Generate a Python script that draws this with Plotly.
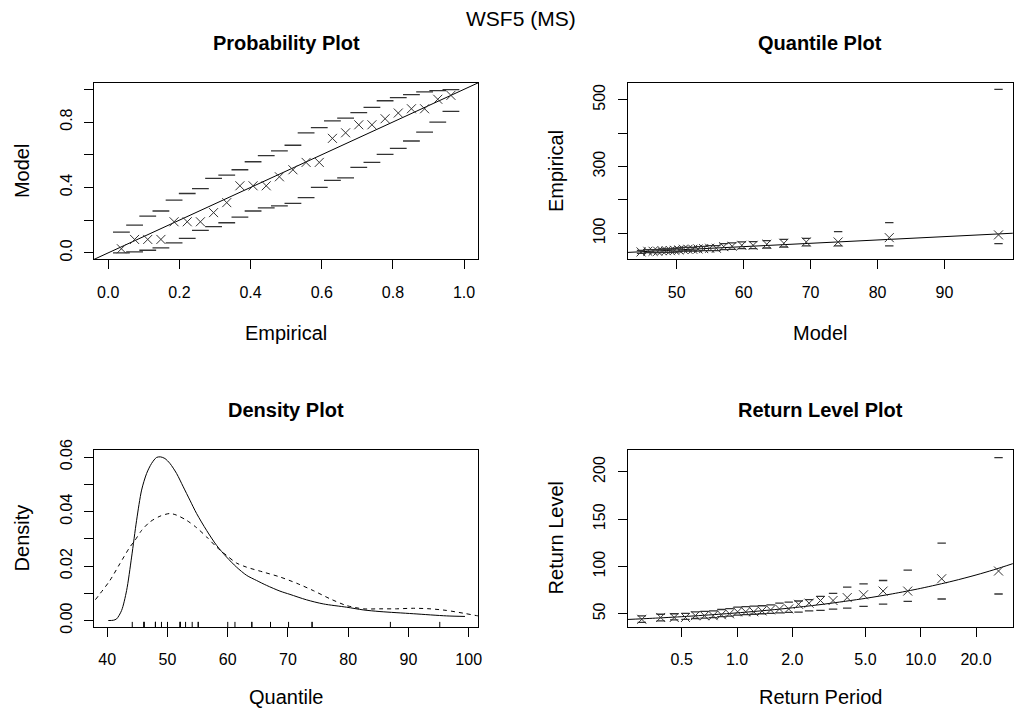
import plotly.graph_objects as go

W, H = 1017, 711

# ---------------- data ----------------
# Probability plot
prob_empirical = [0.037, 0.074, 0.111, 0.148, 0.185, 0.222, 0.259, 0.296, 0.333, 0.370, 0.407, 0.444, 0.481,
                  0.519, 0.556, 0.593, 0.630, 0.667, 0.704, 0.741, 0.778, 0.815, 0.852, 0.889, 0.926, 0.963]
prob_model = [0.025, 0.082, 0.082, 0.082, 0.190, 0.190, 0.190, 0.246, 0.307, 0.410, 0.410, 0.410, 0.465,
              0.508, 0.553, 0.553, 0.700, 0.734, 0.783, 0.783, 0.820, 0.855, 0.881, 0.881, 0.939, 0.963]
prob_upper = [0.127, 0.170, 0.225, 0.256, 0.322, 0.363, 0.393, 0.455, 0.475, 0.508, 0.557, 0.594, 0.623,
              0.658, 0.734, 0.766, 0.807, 0.824, 0.857, 0.889, 0.930, 0.949, 0.967, 0.984, 0.992, 0.998]
prob_lower = [0.000, 0.006, 0.016, 0.031, 0.061, 0.088, 0.137, 0.160, 0.184, 0.219, 0.256, 0.275, 0.287,
              0.303, 0.338, 0.400, 0.443, 0.459, 0.523, 0.553, 0.602, 0.639, 0.684, 0.738, 0.799, 0.865]
unit_identity = [-0.1, 1.1]

# Quantile plot
model_quantiles = [44.67, 45.68, 46.46, 47.16, 47.80, 48.43, 49.06, 49.68, 50.32, 50.99, 51.68, 52.40, 53.18,
                   54.02, 54.92, 55.92, 57.02, 58.28, 59.72, 61.41, 63.45, 66.00, 69.35, 74.11, 81.75, 98.07]
empirical_data = [44.15, 46.1, 46.1, 46.1, 48.0, 48.0, 48.0, 49.0, 50.0, 52.1, 52.1, 52.1, 53.0,
                  54.1, 55.1, 55.1, 60.0, 61.2, 64.0, 64.0, 67.1, 70.1, 74.0, 74.0, 87.0, 95.2]
qq_upper = [49, 51, 51, 51, 53, 53, 53, 55, 56, 58, 58, 58, 60, 61, 63, 63, 69, 71, 74, 75, 78, 82, 85, 105, 132, 531]
qq_lower = [40, 42, 42, 42, 43, 43, 43, 44, 45, 47, 47, 47, 47, 48, 48, 48, 51, 52, 54, 54, 56, 59, 62, 62, 62, 69]
data_identity = [0, 1000]

# Density plot
dens_model_x = [40.17, 41.0, 41.55, 42.38, 43.21, 44.04, 44.87, 45.70, 46.53, 47.36, 48.19, 48.85, 49.57,
                50.40, 51.51, 52.62, 53.72, 54.83, 56.49, 58.15, 59.81, 61.47, 63.13, 64.79, 66.45, 68.67,
                70.33, 73.09, 75.86, 79.73, 82.50, 85.27, 90.80, 96.34, 99.38]
dens_model_y = [0.0, 0.0001, 0.0006, 0.0037, 0.0110, 0.0233, 0.0368, 0.0479, 0.0540, 0.0577, 0.0599, 0.0601,
                0.0595, 0.0577, 0.0540, 0.0491, 0.0442, 0.0393, 0.0331, 0.0276, 0.0233, 0.0196, 0.0166,
                0.0147, 0.0129, 0.0108, 0.0096, 0.0076, 0.0061, 0.0049, 0.0039, 0.0033, 0.0025, 0.0017, 0.0015]
dens_emp_x = [37.0, 37.79, 38.78, 40.44, 42.10, 43.76, 44.59, 45.70, 47.08, 48.74, 50.40, 51.51, 53.17, 54.83,
              56.49, 58.15, 59.81, 61.47, 63.13, 65.90, 68.67, 71.43, 74.20, 76.97, 79.73, 82.50, 85.27,
              88.04, 90.80, 93.57, 96.34, 99.10, 101.32, 102.5]
dens_emp_y = [0.0060, 0.0071, 0.0098, 0.0147, 0.0209, 0.0270, 0.0294, 0.0331, 0.0362, 0.0383, 0.0393, 0.0387,
              0.0368, 0.0341, 0.0307, 0.0270, 0.0239, 0.0211, 0.0196, 0.0178, 0.0160, 0.0137, 0.0110,
              0.0080, 0.0055, 0.0043, 0.0043, 0.0043, 0.0045, 0.0043, 0.0037, 0.0027, 0.0018, 0.0014]

# Return level plot
return_period = [0.303, 0.384, 0.455, 0.524, 0.593, 0.665, 0.741, 0.822, 0.910, 1.007, 1.114, 1.233, 1.368,
                 1.523, 1.702, 1.911, 2.162, 2.467, 2.846, 3.332, 3.979, 4.883, 6.238, 8.496, 13.00, 26.52]
rl_upper = [47.8, 49.5, 50.0, 50.5, 52.0, 52.5, 53.0, 54.5, 55.5, 57.0, 57.5, 58.0, 58.5,
            59.5, 61.3, 62.4, 63.5, 64.9, 68.4, 71.5, 78.2, 81.6, 85.2, 96.2, 124.6, 215.2]
rl_lower = [41.0, 42.5, 43.5, 44.0, 45.0, 45.5, 46.0, 47.0, 47.5, 48.5, 49.0, 49.5, 50.0,
            50.5, 51.0, 51.5, 51.8, 53.0, 53.5, 54.9, 56.0, 57.8, 60.2, 63.1, 65.6, 70.9]
rl_curve_period = [0.25, 0.3, 0.4, 0.5, 0.7, 1.0, 1.5, 2.0, 3.0, 5.0, 7.0, 10.0, 15.0, 20.0, 25.0, 32.0]
rl_curve_level = [43.92, 44.63, 45.86, 46.92, 48.73, 50.94, 53.89, 56.32, 60.27, 66.31, 71.06, 76.88,
                  84.65, 91.02, 96.52, 103.24]

# ---------------- styling ----------------
FONT = "Liberation Sans, Arial, Helvetica, sans-serif"
INK = "#000000"
PT = "#333333"

# the photographed page is slightly rescaled; positions below are given in target-image
# pixels and converted to figure pixels with this calibration
CAP_SX, CAP_OY, CAP_SY = 0.996, 12.5, 0.9726


def px_x(v):
    return (v / CAP_SX) / W


def px_y(v):
    return 1 - ((v - CAP_OY) / CAP_SY) / H


def xmark(xs, ys, xa, ya, size=9):
    return go.Scatter(x=xs, y=ys, xaxis=xa, yaxis=ya, mode="markers", showlegend=False,
                      marker=dict(symbol="x-thin", size=size, color=PT, line=dict(width=1, color=PT)))


def dash(xs, ys, xa, ya, size):
    return go.Scatter(x=xs, y=ys, xaxis=xa, yaxis=ya, mode="markers", showlegend=False,
                      marker=dict(symbol="line-ew", size=size, color=PT, line=dict(width=1.3, color=PT)))


def line(xs, ys, xa, ya, dashstyle="solid", shape="linear"):
    return go.Scatter(x=xs, y=ys, xaxis=xa, yaxis=ya, mode="lines", showlegend=False,
                      line=dict(color=INK, width=1, dash=dashstyle, shape=shape, smoothing=0.8))


fig = go.Figure()

# Probability plot
fig.add_trace(line(unit_identity, unit_identity, "x", "y"))
fig.add_trace(dash(prob_empirical, prob_upper, "x", "y", 12))
fig.add_trace(dash(prob_empirical, prob_lower, "x", "y", 12))
fig.add_trace(xmark(prob_empirical, prob_model, "x", "y"))

# Quantile plot
fig.add_trace(line(data_identity, data_identity, "x2", "y2"))
fig.add_trace(dash(model_quantiles, qq_upper, "x2", "y2", 6))
fig.add_trace(dash(model_quantiles, qq_lower, "x2", "y2", 6))
fig.add_trace(xmark(model_quantiles, empirical_data, "x2", "y2"))

# Density plot
fig.add_trace(line(dens_model_x, dens_model_y, "x3", "y3", shape="spline"))
fig.add_trace(line(dens_emp_x, dens_emp_y, "x3", "y3", dashstyle="4px,4px", shape="spline"))

# Return level plot
fig.add_trace(line(rl_curve_period, rl_curve_level, "x4", "y4", shape="spline"))
fig.add_trace(dash(return_period, rl_upper, "x4", "y4", 6))
fig.add_trace(dash(return_period, rl_lower, "x4", "y4", 6))
fig.add_trace(xmark(return_period, empirical_data, "x4", "y4"))

# rug on density plot
for v in empirical_data:
    fig.add_shape(type="line", xref="x3", yref="y3 domain", x0=v, x1=v, y0=0, y1=0.03,
                  line=dict(color=INK, width=1))

left_dom = [px_x(94), px_x(478.3)]
right_dom = [px_x(627.7), min(px_x(1012.7), 1.0)]
top_dom = [px_y(260), px_y(84)]
bot_dom = [px_y(626.5), px_y(450)]

common = dict(showgrid=False, zeroline=False, showline=True, mirror=True, linecolor=INK, linewidth=1,
              ticks="outside", ticklen=9, tickwidth=1, tickcolor=INK,
              tickfont=dict(family=FONT, size=16, color=INK))
xcommon = dict(common, ticklabelstandoff=9)
ycommon = dict(common, tickangle=-90, ticklabelstandoff=6)

fig.update_layout(
    width=W, height=H, margin=dict(l=0, r=0, t=0, b=0),
    paper_bgcolor="white", plot_bgcolor="white",
    font=dict(family=FONT, color=INK),
    xaxis=dict(xcommon, domain=left_dom, anchor="y", range=[-0.04, 1.04],
               tickvals=[0, 0.2, 0.4, 0.6, 0.8, 1.0], ticktext=["0.0", "0.2", "0.4", "0.6", "0.8", "1.0"]),
    yaxis=dict(ycommon, domain=top_dom, anchor="x", range=[-0.04, 1.04],
               tickvals=[0, 0.2, 0.4, 0.6, 0.8, 1.0], ticktext=["0.0", "", "0.4", "", "0.8", ""]),
    xaxis2=dict(xcommon, domain=right_dom, anchor="y2", range=[42.68, 100.2],
                tickvals=[50, 60, 70, 80, 90], ticktext=["50", "60", "70", "80", "90"]),
    yaxis2=dict(ycommon, domain=top_dom, anchor="x2", range=[21.8, 551],
                tickvals=[100, 200, 300, 400, 500], ticktext=["100", "", "300", "", "500"]),
    xaxis3=dict(xcommon, domain=left_dom, anchor="y3", range=[37.8, 101.6],
                tickvals=[40, 50, 60, 70, 80, 90, 100], ticktext=["40", "50", "60", "70", "80", "90", "100"]),
    yaxis3=dict(ycommon, domain=bot_dom, anchor="x3", range=[-0.00245, 0.0626],
                tickvals=[0, 0.01, 0.02, 0.03, 0.04, 0.05, 0.06],
                ticktext=["0.00", "", "0.02", "", "0.04", "", "0.06"]),
    xaxis4=dict(xcommon, domain=right_dom, anchor="y4", type="log", range=[-0.595, 1.501],
                tickvals=[0.5, 1, 2, 5, 10, 20], ticktext=["0.5", "1.0", "2.0", "5.0", "10.0", "20.0"]),
    yaxis4=dict(ycommon, domain=bot_dom, anchor="x4", range=[35.8, 223.1],
                tickvals=[50, 100, 150, 200], ticktext=["50", "100", "150", "200"]),
)


def label(text, x, y, size=20, bold=False, angle=0):
    t = f"<b>{text}</b>" if bold else text
    fig.add_annotation(text=t, x=px_x(x), y=px_y(y), xref="paper", yref="paper", showarrow=False,
                       textangle=angle, xanchor="center", yanchor="middle",
                       font=dict(family=FONT, size=size, color=INK))


label("WSF5 (MS)", 521, 19.5, size=21)
label("Probability Plot", 286, 44, bold=True)
label("Quantile Plot", 820, 44, bold=True)
label("Density Plot", 286, 410, bold=True)
label("Return Level Plot", 820, 410, bold=True)
label("Empirical", 286, 333)
label("Model", 820, 333)
label("Quantile", 286, 696)
label("Return Period", 820, 696)
label("Model", 22, 172, angle=-90)
label("Empirical", 556, 172, angle=-90)
label("Density", 22, 538, angle=-90)
label("Return Level", 556, 538, angle=-90)

# make the page exactly the size of the figure: no body margins, figure as the only visible block
post = (
    "var gd=document.getElementById('{plot_id}');"
    "var de=document.documentElement, bd=document.body;"
    "[de,bd].forEach(function(e){e.style.margin='0';e.style.padding='0';e.style.overflow='hidden';"
    "e.style.width='1017px';e.style.height='711px';e.style.background='white';});"
    "var par=gd.parentElement; if(par!==bd){bd.insertBefore(gd, bd.firstChild); par.style.display='none';}"
    "gd.style.margin='0';"
)

fig.write_html("out.html", post_script=post, config={"displayModeBar": False})
